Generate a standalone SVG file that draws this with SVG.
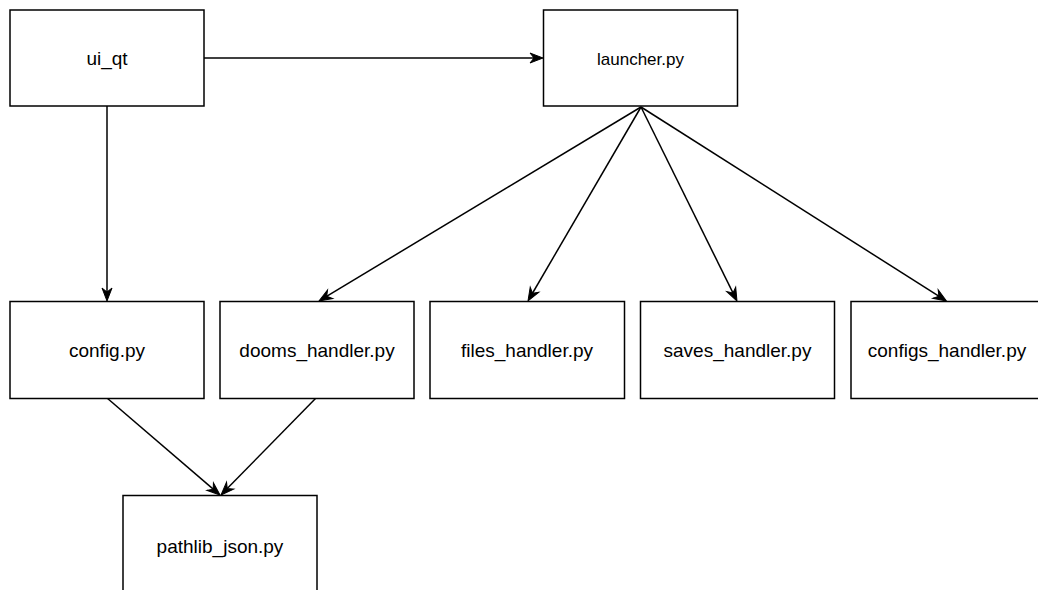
<svg xmlns="http://www.w3.org/2000/svg" width="1038" height="590" viewBox="0 0 1038 590">
<style>
.box{fill:#ffffff;stroke:#000000;stroke-width:1.5}
.lbl{font-family:"Liberation Sans",Arial,sans-serif;font-size:19px;fill:#000000;text-anchor:middle}
.edge{fill:none;stroke:#000000;stroke-width:1.5;marker-end:url(#arr)}
</style>
<defs>
<marker id="arr" markerUnits="userSpaceOnUse" markerWidth="14" markerHeight="11" refX="9" refY="5" orient="auto" overflow="visible">
<path d="M13,5 L0,0 L4,5 L0,10 Z" fill="#000000" stroke="#000000" stroke-width="1"/>
</marker>
</defs>
<rect width="1038" height="590" fill="#ffffff"/>
<g id="connectors">
<path class="edge" d="M204,58 L539,58"/>
<path class="edge" d="M107,106 L107,297"/>
<path class="edge" d="M641,107 L322.4,298.9"/>
<path class="edge" d="M641,107 L530,297.5"/>
<path class="edge" d="M641,107 L735.2,297.4"/>
<path class="edge" d="M641,107 L943.1,298.9"/>
<path class="edge" d="M107,398 L217,492.4"/>
<path class="edge" d="M316,398 L223.8,492.1"/>
</g>
<g id="ui_qt"><rect class="box" x="10" y="10" width="194" height="96"/><text class="lbl" x="107" y="65">ui_qt</text></g>
<g id="launcher"><rect class="box" x="543.5" y="10" width="194" height="96"/><text class="lbl" x="640.5" y="64.5" style="font-size:17px">launcher.py</text></g>
<g id="config"><rect class="box" x="10" y="301.5" width="194" height="97"/><text class="lbl" x="107" y="357">config.py</text></g>
<g id="dooms_handler"><rect class="box" x="220" y="301.5" width="194" height="97"/><text class="lbl" x="317" y="357">dooms_handler.py</text></g>
<g id="files_handler"><rect class="box" x="430" y="301.5" width="194.5" height="97"/><text class="lbl" x="527" y="357">files_handler.py</text></g>
<g id="saves_handler"><rect class="box" x="640.5" y="301.5" width="194" height="97"/><text class="lbl" x="737.5" y="357">saves_handler.py</text></g>
<g id="configs_handler"><rect class="box" x="851" y="301.5" width="194" height="97"/><text class="lbl" x="947" y="357">configs_handler.py</text></g>
<g id="pathlib_json"><rect class="box" x="123" y="495.5" width="194" height="110"/><text class="lbl" x="220" y="552.5">pathlib_json.py</text></g>
</svg>
